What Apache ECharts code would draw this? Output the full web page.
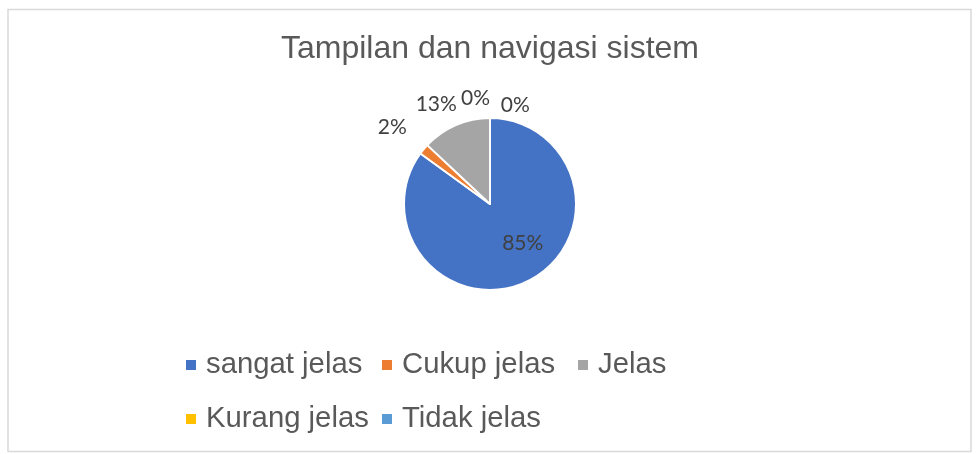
<!DOCTYPE html>
<html>
<head>
<meta charset="utf-8">
<title>Tampilan dan navigasi sistem</title>
<script src="https://cdn.jsdelivr.net/npm/echarts@6/dist/echarts.min.js"></script>
<style>
  html, body { margin: 0; padding: 0; background: #ffffff; }
  #chart { width: 976px; height: 454px; }
</style>
</head>
<body>
<div id="chart"></div>
<script>
// Survey answers for "Tampilan dan navigasi sistem" (percent of respondents)
const categories = ['sangat jelas', 'Cukup jelas', 'Jelas', 'Kurang jelas', 'Tidak jelas'];
const percentages = [85, 2, 13, 0, 0];
const chartTitle = 'Tampilan dan navigasi sistem';

// Slice colours, one per category
const sliceColors = ['#4472C4', '#ED7D31', '#A5A5A5', '#FFC000', '#5B9BD5'];

// Label placement: [distance from the pie centre, turn from the slice's mid-angle in degrees]
const labelSpots = [[51, -13], [124, -1.6], [113, -5], [107, -7.8], [102, 14.4]];

const pieCenter = [490, 204];
const pieRadius = 86;

// Mid-angle of every slice, measured clockwise from 12 o'clock
const total = percentages.reduce((a, b) => a + b, 0);
const midAngles = [];
let running = 0;
percentages.forEach(v => {
  midAngles.push((running + v / 2) / total * 360);
  running += v;
});

const chart = echarts.init(document.getElementById('chart'), null, { renderer: 'canvas' });

chart.setOption({
  animation: false,
  backgroundColor: '#ffffff',
  color: sliceColors,
  title: {
    text: chartTitle,
    left: 490,
    textAlign: 'center',
    top: 33,
    padding: 0,
    textStyle: {
      fontFamily: 'Liberation Sans',
      fontSize: 32,
      fontWeight: 'normal',
      color: '#595959'
    }
  },
  legend: {
    left: 186,
    top: 341,
    width: 600,
    padding: 0,
    itemWidth: 10,
    itemHeight: 10,
    itemGap: 6,
    icon: 'rect',
    selectedMode: false,
    data: categories,
    itemStyle: { borderWidth: 0 },
    textStyle: {
      fontFamily: 'Liberation Sans',
      fontSize: 29.3,
      color: '#595959',
      width: 170,
      lineHeight: 48,
      padding: [0, 0, 0, 5]
    }
  },
  graphic: [{
    type: 'rect',
    silent: true,
    shape: { x: 8, y: 9.5, width: 963, height: 442 },
    style: { fill: 'none', stroke: '#D9D9D9', lineWidth: 1.5 }
  }],
  series: [{
    type: 'pie',
    center: pieCenter,
    radius: pieRadius,
    startAngle: 90,
    clockwise: true,
    avoidLabelOverlap: false,
    emphasis: { disabled: true },
    itemStyle: { borderColor: '#ffffff', borderWidth: 2 },
    label: {
      show: true,
      position: 'outside',
      formatter: p => p.value + '%',
      fontFamily: 'Lato',
      fontSize: 21,
      color: '#404040'
    },
    labelLine: { show: false },
    labelLayout: function (params) {
      const i = params.dataIndex;
      const spot = labelSpots[i];
      const ang = (midAngles[i] + spot[1]) * Math.PI / 180;
      return {
        x: pieCenter[0] + spot[0] * Math.sin(ang),
        y: pieCenter[1] - spot[0] * Math.cos(ang),
        align: 'center',
        verticalAlign: 'middle'
      };
    },
    data: categories.map((name, i) => ({ name: name, value: percentages[i] }))
  }]
});
</script>
</body>
</html>
